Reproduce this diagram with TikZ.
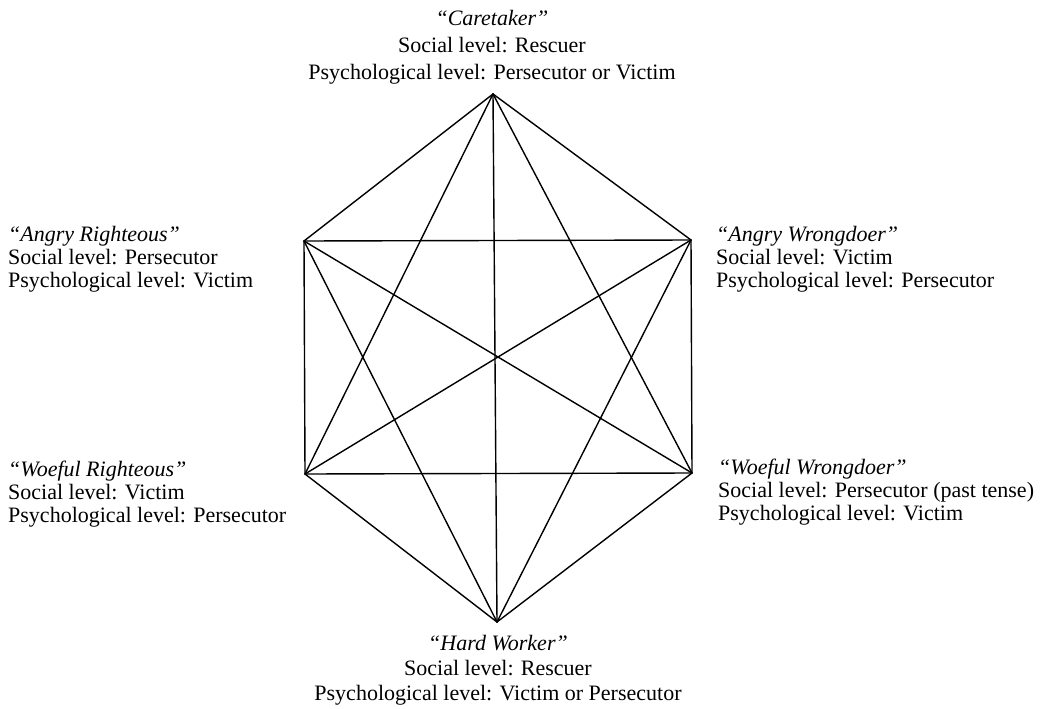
\documentclass[tikz,border=0pt]{standalone}
\usepackage{fontspec}
\setmainfont{Liberation Serif}
\begin{document}
\begin{tikzpicture}[x=1pt,y=-1pt,
  edge/.style={line width=1.4pt, line cap=round, line join=round},
  lbl/.style={inner sep=0pt, font=\fontsize{22}{24}\selectfont},
  lw/.style={lbl, anchor=base west},
  lc/.style={lbl, anchor=base}]
\useasboundingbox (0,0) rectangle (1044,709);
\coordinate (T) at (493,94);
\coordinate (UL) at (304,241);
\coordinate (UR) at (691,240);
\coordinate (LL) at (305,474);
\coordinate (LR) at (692,473);
\coordinate (B) at (497,622);
\foreach \a/\b in {T/UL,T/UR,T/LL,T/LR,T/B,UL/UR,UL/LL,UL/LR,UL/B,UR/LL,UR/LR,UR/B,LL/LR,LL/B,LR/B}
  \draw[edge] (\a) -- (\b);
% top
\node[lc] (care1) at (492,26) {\textit{``Caretaker''}};
\node[lc] (care2) at (492,53) {Social level: Rescuer};
\node[lc] (care3) at (492,80) {Psychological level: Persecutor or Victim};
% upper left
\node[lw] (ar1) at (8,241) {\textit{``Angry Righteous''}};
\node[lw] (ar2) at (8,264) {Social level: Persecutor};
\node[lw] (ar3) at (8,287) {Psychological level: Victim};
% upper right
\node[lw] (aw1) at (716,241) {\textit{``Angry Wrongdoer''}};
\node[lw] (aw2) at (716,264) {Social level: Victim};
\node[lw] (aw3) at (716,287) {Psychological level: Persecutor};
% lower left
\node[lw] (wr1) at (8,476) {\textit{``Woeful Righteous''}};
\node[lw] (wr2) at (8,499) {Social level: Victim};
\node[lw] (wr3) at (8,522) {Psychological level: Persecutor};
% lower right
\node[lw] (ww1) at (718,474) {\textit{``Woeful Wrongdoer''}};
\node[lw] (ww2) at (718,497) {Social level: Persecutor (past tense)};
\node[lw] (ww3) at (718,520) {Psychological level: Victim};
% bottom
\node[lc] (hw1) at (498,650) {\textit{``Hard Worker''}};
\node[lc] (hw2) at (498,675) {Social level: Rescuer};
\node[lc] (hw3) at (498,700) {Psychological level: Victim or Persecutor};
\end{tikzpicture}
\end{document}
